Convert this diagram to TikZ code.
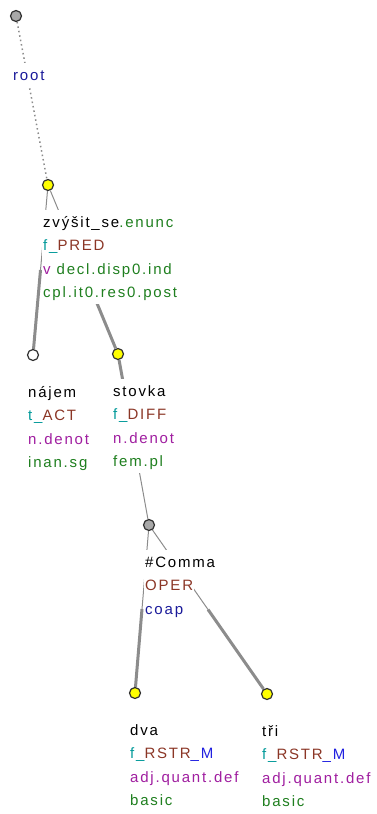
\documentclass[tikz,border=0pt]{standalone}
\usepackage{fontspec}
\setmainfont{Liberation Sans}[LetterSpace=12.0]
\usepackage{tikz}
\usetikzlibrary{calc,backgrounds}
\definecolor{edgegray}{HTML}{8C8C8C}
\definecolor{nodeline}{HTML}{303030}
\definecolor{nodegray}{HTML}{A8A8A8}
\definecolor{nodeyellow}{HTML}{FFFF00}
\definecolor{fteal}{HTML}{009999}
\definecolor{fbrown}{HTML}{8B3626}
\definecolor{fblue}{HTML}{2020E0}
\definecolor{spurple}{HTML}{A01EA0}
\definecolor{ggreen}{HTML}{1F7F1F}
\definecolor{dblue}{HTML}{1A1A9A}

\begin{document}
\begin{tikzpicture}[
  x=1pt,y=-1pt,
  font=\fontsize{15}{18}\selectfont,
  tnode/.style={circle,draw=nodeline,line width=1.2pt,minimum size=11pt,inner sep=0pt},
  lbl/.style={anchor=base west,fill=white,inner ysep=0pt,inner xsep=1pt,text height=17pt,text depth=6.5pt},
  thinhalf/.style={draw=edgegray,line width=1pt},
  thickhalf/.style={draw=edgegray,line width=3pt}
]
\useasboundingbox (0,0) rectangle (377,814);
% tree nodes
\node[tnode,fill=nodegray] (root) at (16,16) {};
\node[tnode,fill=nodeyellow] (zvysit) at (48,185) {};
\node[tnode,fill=white] (najem) at (33,355) {};
\node[tnode,fill=nodeyellow] (stovka) at (118,354) {};
\node[tnode,fill=nodegray] (comma) at (149,525) {};
\node[tnode,fill=nodeyellow] (dva) at (135,693) {};
\node[tnode,fill=nodeyellow] (tri) at (267,694) {};
% labels
\node[lbl,text=dblue] (rt1) at ($(root)+(-4,64)$) {root};
\node[lbl] (zv1) at ($(zvysit)+(-6,42)$) {zvýšit\_se\textcolor{ggreen}{.enunc}};
\node[lbl] (zv2) at ($(zv1.base west)+(0,23.5)$) {\textcolor{fteal}{f\_}\textcolor{fbrown}{PRED}};
\node[lbl] (zv3) at ($(zv2.base west)+(0,23.5)$) {\textcolor{spurple}{v} \textcolor{ggreen}{decl.disp0.ind}};
\node[lbl,text=ggreen] (zv4) at ($(zv3.base west)+(0,23.5)$) {cpl.it0.res0.post};
\node[lbl] (na1) at ($(najem)+(-6,42)$) {nájem};
\node[lbl] (na2) at ($(na1.base west)+(0,23.5)$) {\textcolor{fteal}{t\_}\textcolor{fbrown}{ACT}};
\node[lbl,text=spurple] (na3) at ($(na2.base west)+(0,23.5)$) {n.denot};
\node[lbl,text=ggreen] (na4) at ($(na3.base west)+(0,23.5)$) {inan.sg};
\node[lbl] (st1) at ($(stovka)+(-6,42)$) {stovka};
\node[lbl] (st2) at ($(st1.base west)+(0,23.5)$) {\textcolor{fteal}{f\_}\textcolor{fbrown}{DIFF}};
\node[lbl,text=spurple] (st3) at ($(st2.base west)+(0,23.5)$) {n.denot};
\node[lbl,text=ggreen] (st4) at ($(st3.base west)+(0,23.5)$) {fem.pl};
\node[lbl] (co1) at ($(comma)+(-5,42)$) {\#Comma};
\node[lbl,text=fbrown] (co2) at ($(co1.base west)+(0,23.5)$) {OPER};
\node[lbl,text=dblue] (co3) at ($(co2.base west)+(0,23.5)$) {coap};
\node[lbl] (dv1) at ($(dva)+(-6,42)$) {dva};
\node[lbl] (dv2) at ($(dv1.base west)+(0,23.5)$) {\textcolor{fteal}{f\_}\textcolor{fbrown}{RSTR}\textcolor{fblue}{\_M}};
\node[lbl,text=spurple] (dv3) at ($(dv2.base west)+(0,23.5)$) {adj.quant.def};
\node[lbl,text=ggreen] (dv4) at ($(dv3.base west)+(0,23.5)$) {basic};
\node[lbl] (tr1) at ($(tri)+(-6,42)$) {tři};
\node[lbl] (tr2) at ($(tr1.base west)+(0,23.5)$) {\textcolor{fteal}{f\_}\textcolor{fbrown}{RSTR}\textcolor{fblue}{\_M}};
\node[lbl,text=spurple] (tr3) at ($(tr2.base west)+(0,23.5)$) {adj.quant.def};
\node[lbl,text=ggreen] (tr4) at ($(tr3.base west)+(0,23.5)$) {basic};
% edges, behind labels and nodes
\begin{scope}[on background layer]
\draw[edgegray,line width=1.5pt,dash pattern=on 1.5pt off 3pt] (root) -- (zvysit);
\foreach \a/\b in {zvysit/najem,zvysit/stovka,comma/dva,comma/tri}{
  \draw[thinhalf] (\a) -- ($(\a)!0.5!(\b)$);
  \draw[thickhalf] ($(\a)!0.5!(\b)$) -- (\b);
}
\draw[thickhalf] (stovka) -- ($(stovka)!0.5!(comma)$);
\draw[thinhalf] ($(stovka)!0.5!(comma)$) -- (comma);
\end{scope}
\end{tikzpicture}
\end{document}
